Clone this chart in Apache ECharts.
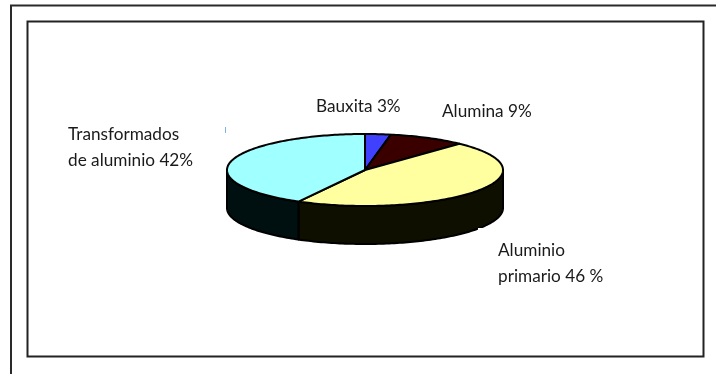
<!DOCTYPE html>
<html><head><meta charset="utf-8">
<style>html,body{margin:0;padding:0;background:#fff}#c{width:716px;height:374px}</style>
<script src="https://cdn.jsdelivr.net/npm/echarts@6/dist/echarts.min.js"></script>
</head><body><div id="c"></div>
<script>
const categories = ['Bauxita', 'Alumina', 'Aluminio primario', 'Transformados de aluminio'];
const shares = [3, 9, 46, 42];
const topColors = ['#4040ff', '#3a0000', '#ffffa0', '#a0ffff'];
const sideColors = ['#0a0a28', '#0f0000', '#0f0f00', '#000f0f'];
const labelLines = [['Bauxita 3%'], ['Alumina 9%'], ['Aluminio', 'primario 46 %'], ['Transformados', 'de aluminio 42%']];
const labelSpots = [[316, 108], [442, 113], [498, 252], [68, 136]];

const total = shares.reduce((a, b) => a + b, 0);
const starts = [];
shares.reduce((acc, v, i) => { starts[i] = acc; return acc + v; }, 0);
const CX = 365, CY = 170, RX = 138, RY = 36, DEPTH = 38;
const edge = (t, dy) => [CX + RX * Math.sin(t), CY + dy - RY * Math.cos(t)];
const arcPts = (a, b, dy) => {
  const n = Math.max(2, Math.ceil((b - a) / 0.02)), out = [];
  for (let i = 0; i <= n; i++) out.push(edge(a + (b - a) * i / n, dy));
  return out;
};
const angles = i => [starts[i] / total * 2 * Math.PI, (starts[i] + shares[i]) / total * 2 * Math.PI];
const line = { stroke: '#000', lineWidth: 2, lineJoin: 'round' };

function renderSide(p, api) {
  const i = api.value(0);
  let [a, b] = angles(i);
  a = Math.max(a, Math.PI / 2); b = Math.min(b, Math.PI * 1.5);
  if (b <= a) return { type: 'group', children: [] };
  const pts = arcPts(a, b, 0).concat(arcPts(a, b, DEPTH).reverse());
  return { type: 'polygon', shape: { points: pts }, style: Object.assign({ fill: sideColors[i] }, line) };
}
function renderTop(p, api) {
  const i = api.value(0);
  const [a, b] = angles(i);
  return { type: 'polygon', shape: { points: [[CX, CY]].concat(arcPts(a, b, 0)) },
           style: Object.assign({ fill: topColors[i] }, line) };
}
const textEls = [];
labelLines.forEach((ls, i) => ls.forEach((s, j) => textEls.push({
  type: 'text', left: labelSpots[i][0], top: labelSpots[i][1] - 10 + j * 26, z: 20,
  style: { text: s, font: '17.2px Lato', fill: '#1a1a1a' }, silent: true
})));
const chart = echarts.init(document.getElementById('c'), null, { renderer: 'canvas' });
const rows = shares.map((v, i) => [i, v, categories[i]]);
chart.setOption({
  animation: false,
  backgroundColor: '#fff',
  xAxis: { show: false, min: 0, max: 1 }, yAxis: { show: false, min: 0, max: 1 },
  grid: { left: 0, right: 0, top: 0, bottom: 0 },
  graphic: [
    { type: 'polyline', z: 1, shape: { points: [[716, 5.5], [11, 5.5], [11, 374]] }, style: { stroke: '#2a2a2a', lineWidth: 2, fill: null } },
    { type: 'rect', z: 1, shape: { x: 27.5, y: 21.5, width: 676, height: 335 }, style: { stroke: '#222', lineWidth: 2, fill: '#fff' } },
    { type: 'rect', z: 19, shape: { x: 478, y: 228, width: 20, height: 12 }, style: { fill: '#fff', stroke: null } },
    { type: 'rect', z: 19, shape: { x: 225, y: 127, width: 1, height: 6 }, style: { fill: '#7fb4e8', stroke: null } },
    ...textEls
  ],
  series: [
    { type: 'custom', renderItem: renderSide, data: rows, encode: { x: 0, y: 1 }, z: 5 },
    { type: 'custom', renderItem: renderTop, data: rows, encode: { x: 0, y: 1 }, z: 6 }
  ]
});
</script></body></html>
